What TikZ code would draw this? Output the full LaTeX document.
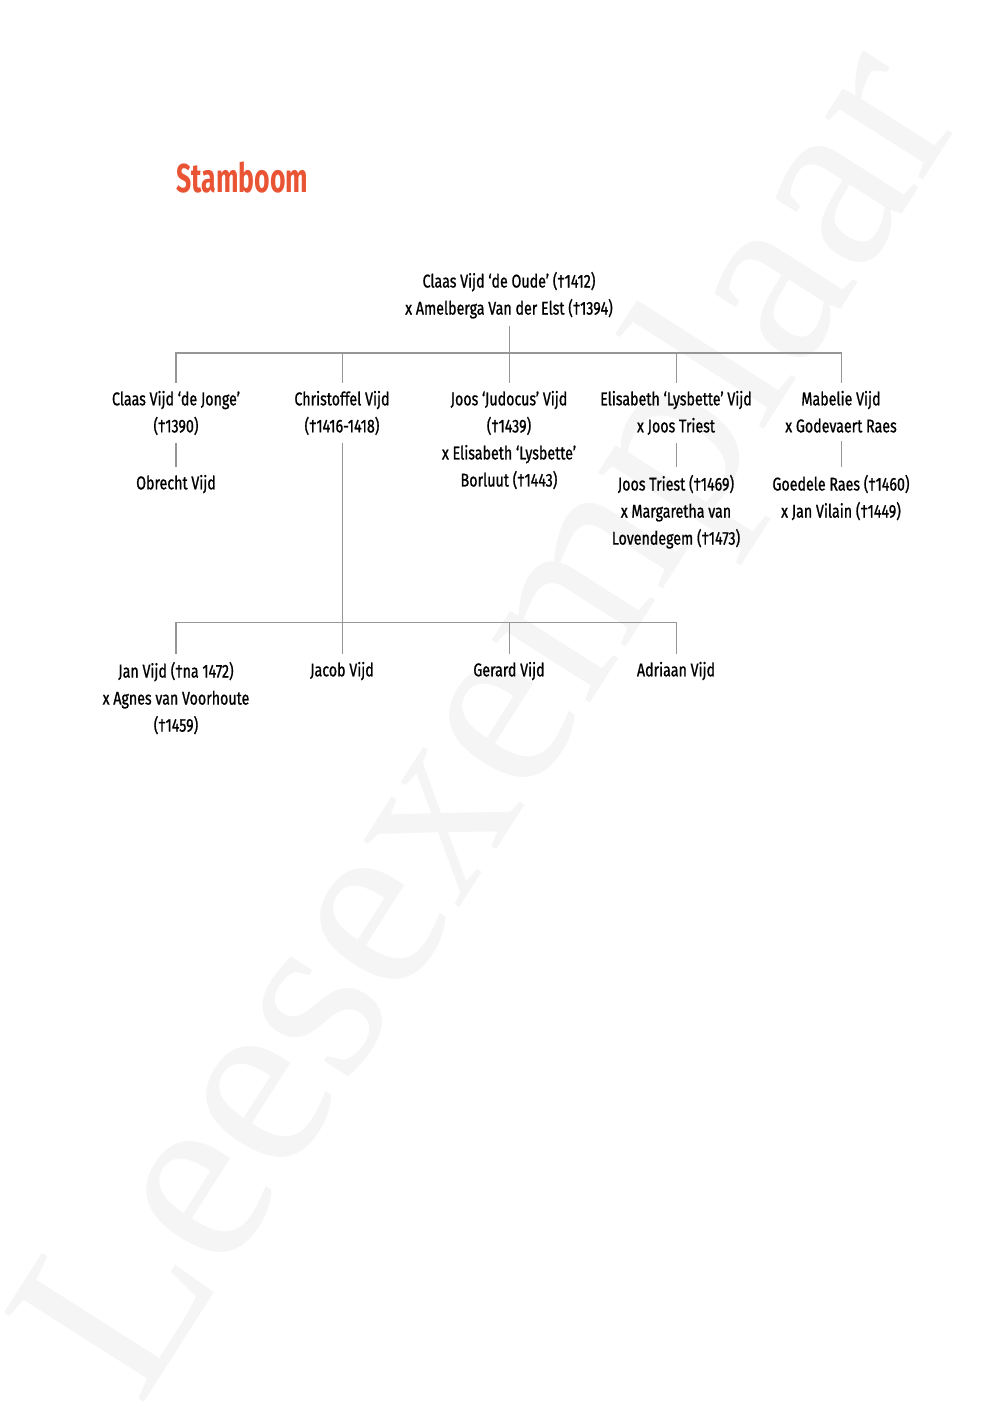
\documentclass[tikz,border=0pt]{standalone}
\usepackage{fontspec}
\setmainfont{Fira Sans}[FakeStretch=0.77, FakeBold=0.9]
\newfontfamily\titlefont{Fira Sans}[FakeStretch=0.66, UprightFont=*-Bold]
\newfontfamily\wmfont{Liberation Serif}
\usetikzlibrary{positioning}
\definecolor{titleorange}{RGB}{233,84,52}
\definecolor{treegray}{RGB}{150,150,150}

\begin{document}
\begin{tikzpicture}[
  x=0.595pt, y=-0.595pt,
  person/.style={align=center, anchor=north, inner xsep=0pt, inner ysep=4.5pt, font=\fontsize{11}{16.1}\selectfont},
  tree/.style={draw=treegray, line width=0.6pt},
  watermark/.style={text=gray!8, font=\wmfont\fontsize{151}{151}\selectfont, rotate=57.5, inner sep=0pt},
  heading/.style={anchor=base west, text=titleorange, inner sep=0pt, font=\titlefont\fontsize{24}{28}\selectfont}
]
  \useasboundingbox (0,0) rectangle (1000,1412);
  \node[watermark] (wm) at (502,728) {Leesexemplaar};
  \node[heading] (title) at (176,193) {Stamboom};
  % stamvader
  \node[person] (oude) at (509,264) {Claas Vijd ‘de Oude’ (†1412)\\x Amelberga Van der Elst (†1394)};
  % kinderen
  \node[person] (jonge) at (176,383) {Claas Vijd ‘de Jonge’\\(†1390)};
  \node[person] (christoffel) at (342,383) {Christoffel Vijd\\(†1416-1418)};
  \node[person] (judocus) at (509,383) {Joos ‘Judocus’ Vijd\\(†1439)\\x Elisabeth ‘Lysbette’\\Borluut (†1443)};
  \node[person] (lysbette) at (676,383) {Elisabeth ‘Lysbette’ Vijd\\x Joos Triest};
  \node[person] (mabelie) at (841,383) {Mabelie Vijd\\x Godevaert Raes};
  % kleinkinderen
  \node[person] (obrecht) at (176,467) {Obrecht Vijd};
  \node[person] (triest) at (676,467) {Joos Triest (†1469)\\x Margaretha van\\Lovendegem (†1473)};
  \node[person] (goedele) at (841,467) {Goedele Raes (†1460)\\x Jan Vilain (†1449)};
  \node[person] (jan) at (176,654) {Jan Vijd (†na 1472)\\x Agnes van Voorhoute\\(†1459)};
  \node[person] (jacob) at (342,654) {Jacob Vijd};
  \node[person] (gerard) at (509,654) {Gerard Vijd};
  \node[person] (adriaan) at (676,654) {Adriaan Vijd};
  % verbindingen
  \coordinate (split1) at (509,353);
  \coordinate (split2) at (342,622);
  \draw[tree] (oude.south) -- (split1);
  \foreach \kind in {jonge,christoffel,judocus,lysbette,mabelie}
    \draw[tree] (split1) -| (\kind.north);
  \draw[tree] (jonge) -- (obrecht);
  \draw[tree] (lysbette) -- (triest);
  \draw[tree] (mabelie) -- (goedele);
  \draw[tree] (christoffel.south) -- (split2);
  \foreach \kind in {jan,jacob,gerard,adriaan}
    \draw[tree] (split2) -| (\kind.north);
\end{tikzpicture}
\end{document}
